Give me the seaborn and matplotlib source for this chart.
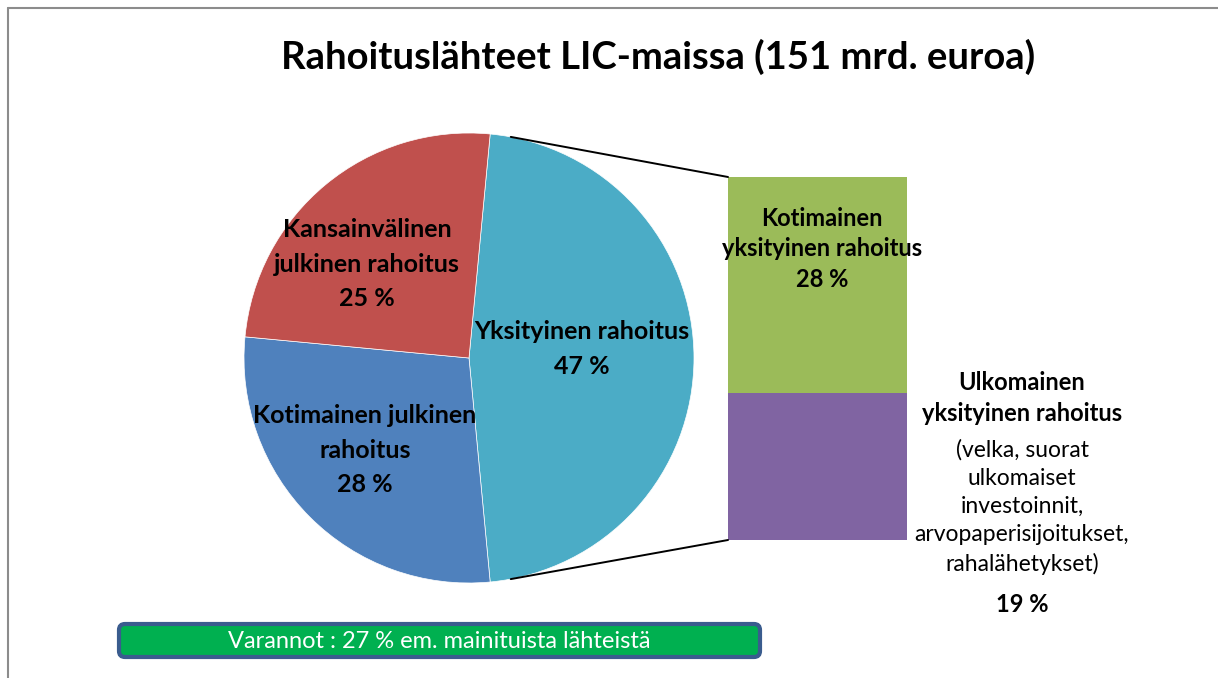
import numpy as np
import pandas as pd
import matplotlib
matplotlib.use("Agg")
import matplotlib.pyplot as plt
import seaborn as sns
from matplotlib.patches import FancyBboxPatch, ConnectionPatch

# data
title = "Rahoituslähteet LIC-maissa (151 mrd. euroa)"
pie_labels = ["Yksityinen rahoitus", "Kotimainen julkinen\nrahoitus", "Kansainvälinen\njulkinen rahoitus"]
pie_values = [47, 28, 25]
pie_colors = ["#4BACC6", "#4F81BD", "#C0504D"]
bar_labels = ["Ulkomainen\nyksityinen rahoitus", "Kotimainen\nyksityinen rahoitus"]
bar_values = [19, 28]
bar_colors = ["#8064A2", "#9BBB59"]
bar_note = "(velka, suorat\nulkomaiset\ninvestoinnit,\narvopaperisijoitukset,\nrahalähetykset)"
reserve_note = "Varannot : 27 % em. mainituista lähteistä"

sns.set_theme(style="white")
plt.rcParams['font.family'] = ['Lato', 'DejaVu Sans']
plt.rcParams['text.color'] = 'black'

W, H = 1218, 678
fig = plt.figure(figsize=(W / 100, H / 100), dpi=100)
fig.patch.set_facecolor('white')

def px_axes(x0, y0, x1, y1, **kw):
    return fig.add_axes([x0 / W, 1 - y1 / H, (x1 - x0) / W, (y1 - y0) / H], **kw)

#%% pie
pie_ax = px_axes(244, 133, 694, 583)
start = pie_values[0] / 100 * 180
pie_ax.pie(pie_values, colors=pie_colors, startangle=start, counterclock=False,
           wedgeprops=dict(edgecolor='white', linewidth=0.5))
pie_ax.set_xlim(-1, 1)
pie_ax.set_ylim(-1, 1)
pie_ax.axis('off')

#%% stacked bar (drawn top-down so lower segment covers the total)
bar_ax = px_axes(728, 177, 907, 540)
cum = np.cumsum(bar_values)
for i in reversed(range(len(bar_values))):
    df = pd.DataFrame({'k': ['bar'], 'v': [cum[i]]})
    sns.barplot(data=df, x='k', y='v', color=bar_colors[i], width=1,
                saturation=1, ax=bar_ax, linewidth=0)
bar_ax.set_xlim(-0.5, 0.5)
bar_ax.set_ylim(0, cum[-1])
bar_ax.axis('off')

# connector lines
a = np.deg2rad(start - 5.3)
for sgn, yb in [(1, cum[-1]), (-1, 0)]:
    con = ConnectionPatch(xyA=(np.cos(a), sgn * np.sin(a)), coordsA=pie_ax.transData,
                          xyB=(-0.5, yb), coordsB=bar_ax.transData,
                          color='black', lw=1.4)
    fig.add_artist(con)

#%% overlay for text
ov = fig.add_axes([0, 0, 1, 1])
ov.set_xlim(0, W)
ov.set_ylim(H, 0)
ov.axis('off')
ov.patch.set_alpha(0)

ov.plot([8, 8], [H, 8], color='#8c8c8c', lw=1.5)
ov.plot([8, W], [8, 8], color='#8c8c8c', lw=1.5)

ov.text(658, 57, title, ha='center', va='center', fontsize=27.5, fontweight='bold')

lab = dict(ha='center', va='center', fontsize=18, fontweight='bold', linespacing=1.58)
ov.text(582, 349, f"{pie_labels[0]}\n{pie_values[0]} %", **lab)
ov.text(365, 450, f"{pie_labels[1]}\n{pie_values[1]} %", **lab)
ov.text(367, 264, f"{pie_labels[2]}\n{pie_values[2]} %", **lab)

lab2 = dict(ha='center', va='center', fontsize=17, fontweight='bold', linespacing=1.42)
ov.text(822, 249, f"{bar_labels[1]}\n{bar_values[1]} %", **lab2)
ov.text(1022, 398, bar_labels[0], **lab2)
ov.text(1022, 507, bar_note, ha='center', va='center', fontsize=16.5, linespacing=1.42)
ov.text(1022, 604, f"{bar_values[0]} %", **lab2)

box = FancyBboxPatch((119, 624), 641, 33, boxstyle="round,pad=0,rounding_size=6",
                     fc='#00B050', ec='#3A5C8E', lw=3)
ov.add_patch(box)
ov.text(439, 641, reserve_note, ha='center', va='center', fontsize=17, color='white')

fig.savefig('out.png', dpi=100)
